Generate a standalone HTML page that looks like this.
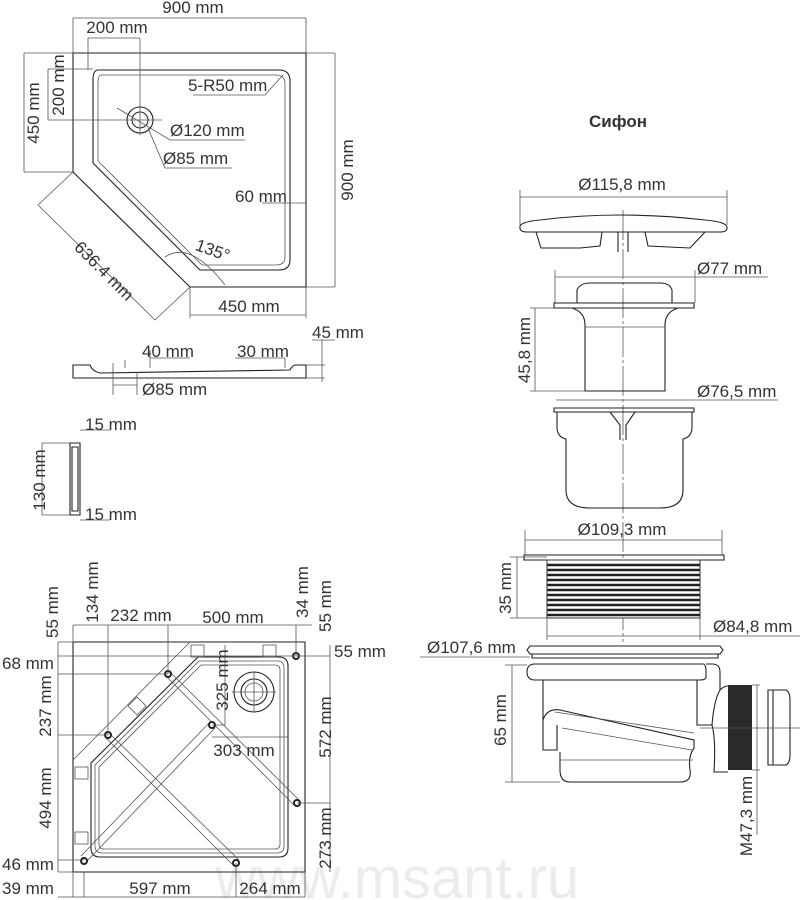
<!DOCTYPE html>
<html><head><meta charset="utf-8"><style>
html,body{margin:0;padding:0;background:#fff;}
svg{display:block;}
text{font-family:"Liberation Sans",Arial,sans-serif;font-size:17px;fill:#333;}
.l{stroke:#222;stroke-width:1.1;fill:none;}
.t{stroke:#555;stroke-width:0.8;fill:none;}
.g{stroke:#555;stroke-width:0.8;fill:none;}
</style></head><body>
<svg width="800" height="900" viewBox="0 0 800 900" xmlns="http://www.w3.org/2000/svg">
<!-- watermark -->
<text x="215" y="898" style="font-size:58px;fill:#ececec;">www.msant.ru</text>

<!-- ===== TOP VIEW ===== -->
<path class="l" d="M73,53 H306 V287 H190 L73,172 Z"/>
<path class="l" d="M98,70 H279 Q290,70 290,81 V260 Q290,270 279,270 H200 L93,163 V80 Q93,70 98,70 Z"/>
<path class="g" d="M101,75 H276 Q285,75 285,84 V257 Q285,265 276,265 H202 L98,161 V84 Q98,75 101,75 Z"/>
<circle class="l" cx="140" cy="120" r="13"/><circle class="l" cx="140" cy="120" r="8"/>
<path class="g" d="M73,53 V18 M306,53 V18 M73,18 H306 M88,38 H140 M88,38 V70 M140,38 V135 M24,53 H73 M24,172 H73 M24,53 V172 M48,69 H93 M48,120 H162 M48,69 V120 M306,53 H335 M306,287 H335 M335,53 V287 M190,287 V318 M306,287 V318 M190,315 H306 M38,205 L155,320 M73,172 L38,205 M190,287 L155,320"/>
<path class="g" d="M193,95 H265 L283,75 M117,108 L170,140 H245 M148,128 L165,168 H232 M262,203 H306 M165,257 Q190,240 225,285"/>
<text x="193" y="13" text-anchor="middle">900 mm</text>
<text x="117" y="33" text-anchor="middle">200 mm</text>
<text transform="translate(39,113) rotate(-90)" text-anchor="middle">450 mm</text>
<text transform="translate(64,85) rotate(-90)" text-anchor="middle">200 mm</text>
<text transform="translate(353,170) rotate(-90)" text-anchor="middle">900 mm</text>
<text x="188" y="91">5-R50 mm</text>
<text x="170" y="136">Ø120 mm</text>
<text x="163" y="164">Ø85 mm</text>
<text x="235" y="202">60 mm</text>
<text x="195" y="255" transform="rotate(20,210,250)">135°</text>
<text x="249" y="312" text-anchor="middle">450 mm</text>
<text transform="translate(100,275) rotate(45)" text-anchor="middle">636.4 mm</text>

<!-- side view -->
<path class="l" d="M73,365 H90 Q92,371 100,373 L290,370 Q292,366 295,365 H306 V378 H73 Z"/>
<path class="g" d="M113,363 V395 M137,372 V395 M113,385 H137 M125,368 V360 M150,368 V350 M150,358 H190 M285,368 V358 M235,358 H285 M306,365 H325 M306,378 H325 M322,340 V382 M312,340 H335"/>
<text x="312" y="338">45 mm</text>
<text x="142" y="357">40 mm</text>
<text x="237" y="357">30 mm</text>
<text x="142" y="395">Ø85 mm</text>

<!-- side piece -->
<path class="l" d="M70,443 H80 V515 H70 Z M72,447 H78 V511 H72 Z"/>
<path class="g" d="M42,443 H70 M42,515 H70 M42,443 V515 M80,430 H110 M80,520 H110"/>
<text x="85" y="430">15 mm</text>
<text x="85" y="520">15 mm</text>
<text transform="translate(45,480) rotate(-90)" text-anchor="middle">130 mm</text>

<!-- ===== BOTTOM VIEW ===== -->
<path class="l" d="M73,642 H305 V872 H73 Z"/>
<path class="g" d="M190,642 L73,760"/>
<path class="l" d="M198,657 H279 Q288,657 288,666 V848 Q288,857 279,857 H100 Q91,857 91,848 V763 Z"/>
<path class="g" d="M199,661 H277 Q284,661 284,668 V846 Q284,853 277,853 H102 Q95,853 95,846 V765 Z M201,665 H275 Q280,665 280,670 V844 Q280,849 275,849 H104 Q99,849 99,844 V767 Z"/>
<path class="g" d="M168,670 L300,801 M166,676 L295,806 M108,732 L239,860 M106,738 L234,866 M210,722 L81,856 M215,728 L87,861"/>
<circle class="l" cx="254" cy="692" r="20"/><circle class="l" cx="254" cy="692" r="13"/><circle class="g" cx="254" cy="692" r="9"/>
<path class="g" d="M232,692 H276 M254,672 V712"/>
<rect class="g" x="191" y="645" width="13" height="12"/><rect class="g" x="263" y="645" width="13" height="12"/>
<rect class="g" x="75" y="767" width="13" height="12"/><rect class="g" x="75" y="832" width="13" height="12"/>
<path class="g" d="M128,706 L137,697 L146,706 L137,715 Z"/>
<g fill="#fff" stroke="#222" stroke-width="2">
<circle cx="296" cy="656" r="3"/><circle cx="168" cy="674" r="3"/><circle cx="108" cy="735" r="3"/><circle cx="212" cy="725" r="3"/><circle cx="297" cy="803" r="3"/><circle cx="236" cy="863" r="3"/><circle cx="84" cy="861" r="3"/>
</g>
<path class="g" d="M73,625 H312 M73,625 V642 M108,625 V735 M168,625 V674 M296,625 V656 M58,642 H73 M58,656 H330 M58,674 H168 M58,735 H108 M58,860 H84 M58,872 H73 M58,642 V872 M330,645 V872 M297,803 H330 M212,725 H225 V645 M212,737 H288 M73,872 V897 M84,872 V897 M236,863 V897 M305,872 V897 M58,897 H305"/>
<text transform="translate(58,612) rotate(-90)" text-anchor="middle">55 mm</text>
<text transform="translate(98,592) rotate(-90)" text-anchor="middle">134 mm</text>
<text x="141" y="621" text-anchor="middle">232 mm</text>
<text x="233" y="623" text-anchor="middle">500 mm</text>
<text transform="translate(308,592) rotate(-90)" text-anchor="middle">34 mm</text>
<text transform="translate(331,606) rotate(-90)" text-anchor="middle">55 mm</text>
<text x="334" y="657">55 mm</text>
<text x="28" y="669" text-anchor="middle">68 mm</text>
<text transform="translate(51,706) rotate(-90)" text-anchor="middle">237 mm</text>
<text transform="translate(228,680) rotate(-90)" text-anchor="middle">325 mm</text>
<text x="244" y="756" text-anchor="middle">303 mm</text>
<text transform="translate(331,727) rotate(-90)" text-anchor="middle">572 mm</text>
<text transform="translate(51,798) rotate(-90)" text-anchor="middle">494 mm</text>
<text transform="translate(331,838) rotate(-90)" text-anchor="middle">273 mm</text>
<text x="28" y="870" text-anchor="middle">46 mm</text>
<text x="28" y="894" text-anchor="middle">39 mm</text>
<text x="160" y="894" text-anchor="middle">597 mm</text>
<text x="270" y="894" text-anchor="middle">264 mm</text>

<!-- ===== SIPHON ===== -->
<text x="618" y="127" text-anchor="middle" style="font-weight:bold;">Сифон</text>
<path class="g" d="M623,210 V642" stroke-dasharray="30,3,3,3"/>
<!-- cap -->
<path class="g" d="M520,197 H727 M520,190 V225 M727,190 V225"/>
<text x="622" y="190" text-anchor="middle">Ø115,8 mm</text>
<path class="l" d="M520,228 Q518,222 540,220 Q620,210 705,220 Q728,222 727,228 Q727,232 720,232 H527 Q520,232 520,228 Z"/>
<path class="l" d="M536,232 L541,248 H580 L600,246 L602,232 M645,232 L648,246 L690,248 L705,232 M618,232 V252 M628,232 V252"/>
<!-- 77 -->
<path class="g" d="M555,277 H695 M555,270 V303 M695,270 V303 M695,277 H768"/>
<text x="697" y="274">Ø77 mm</text>
<path class="l" d="M577,303 V290 Q580,283 590,283 H660 Q670,283 672,290 V303 M554,303 H694 V308 H554 Z"/>
<path class="l" d="M572,308 Q585,312 585,325 V391 H665 V325 Q665,312 678,308"/>
<path class="g" d="M585,327 H665 M530,308 H554 M530,391 H585 M535,308 V391"/>
<text transform="translate(530,350) rotate(-90)" text-anchor="middle">45,8 mm</text>
<!-- 76.5 -->
<path class="g" d="M556,400 H692 M692,400 H778"/>
<text x="697" y="397">Ø76,5 mm</text>
<path class="l" d="M554,408 H694 V412 H554 Z M557,412 V427 Q557,437 566,439 V490 Q566,508 590,508 H660 Q683,508 683,490 V439 Q692,437 692,427 V412 M610,412 L620,425 V440 M635,412 L626,425 V440"/>
<!-- 109.3 -->
<path class="g" d="M525,540 H722 M525,530 V555 M722,530 V555"/>
<text x="622" y="535" text-anchor="middle">Ø109,3 mm</text>
<path class="l" d="M524,555 H724 V560 H524 Z"/>
<rect x="547" y="560" width="153" height="58" fill="#fff" stroke="#333"/>
<g stroke="#222" stroke-width="2.6">
<path d="M547,565 H700 M547,570 H700 M547,575 H700 M547,580 H700 M547,585 H700 M547,590 H700 M547,595 H700 M547,600 H700 M547,605 H700 M547,610 H700 M547,615 H700"/>
</g>
<path class="g" d="M510,557 H547 M510,618 H547 M517,557 V618 M547,618 V640 M700,618 V640 M547,636 H800"/>
<text transform="translate(511,588) rotate(-90)" text-anchor="middle">35 mm</text>
<text x="713" y="632">Ø84,8 mm</text>
<text x="427" y="653">Ø107,6 mm</text>
<path class="g" d="M420,657 H530"/>
<path class="l" d="M530,646 H720 L723,650 L720,654 H530 L527,650 Z M532,654 V658 H718 V654"/>
<!-- body -->
<path class="l" d="M527,672 Q527,664 535,664 H703 Q706,664 706,672 V677 Q706,680 700,680 H535 Q527,680 527,672 Z"/>
<path class="l" d="M706,664 H712 Q720,664 720,672 V690 Q714,700 712,725 H697 V680"/>
<path class="l" d="M543,680 V750 H557 V725 M543,720 Q547,708 560,710 L694,740 V748 Q688,756 690,770 Q692,782 680,782 H570 Q560,782 560,770 V752"/>
<path class="g" d="M555,712 L694,733 M562,728 L692,750 M560,760 H693"/>
<path class="l" d="M712,725 Q716,740 714,772 H728"/>
<path class="l" d="M720,690 Q724,686 728,686"/>
<rect x="728" y="685" width="24" height="85" fill="#2a2a2a"/>
<path class="l" d="M768,690 H786 Q790,692 790,700 V755 Q790,763 786,765 H768 Z M773,690 V765"/>
<path class="g" d="M700,728 H800"/>
<path class="g" d="M505,665 H527 M505,782 H560 M512,665 V782 M752,685 H760 M752,770 H760 M757,685 V835"/>
<text transform="translate(506,720) rotate(-90)" text-anchor="middle">65 mm</text>
<text transform="translate(752,816) rotate(-90)" text-anchor="middle">M47,3 mm</text>
</svg>
</body></html>
